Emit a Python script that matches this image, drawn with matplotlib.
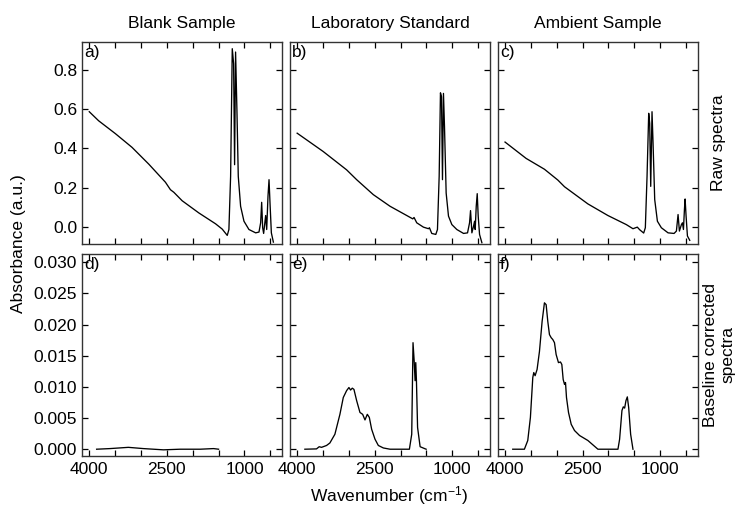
import matplotlib
matplotlib.use("Agg")
import matplotlib.pyplot as plt

plt.rcParams['font.family'] = ['Liberation Sans', 'DejaVu Sans']
plt.rcParams['mathtext.fontset'] = 'custom'
plt.rcParams['mathtext.rm'] = 'Liberation Sans'
plt.rcParams['mathtext.it'] = 'Liberation Sans:italic'
plt.rcParams['font.size'] = 12.5

# column titles / row labels
col_titles = ["Blank Sample", "Laboratory Standard", "Ambient Sample"]
row_labels = ["Raw spectra", "Baseline corrected\nspectra"]
panel_tags = [["a)", "b)", "c)"], ["d)", "e)", "f)"]]

# ---- raw spectra ----
blank_raw_wn = [3998, 3817, 3495, 3172, 2849, 2527, 2430, 2365, 2204, 1881, 1559, 1430,
                1333, 1301, 1268, 1236, 1210, 1191, 1172, 1146, 1120, 1075, 1010, 914,
                784, 720, 688, 668, 649, 630, 591, 571, 546, 526, 507, 481, 442]
blank_raw_abs = [0.586, 0.540, 0.475, 0.405, 0.320, 0.228, 0.190, 0.177, 0.134, 0.072, 0.017, -0.010,
                 -0.042, -0.012, 0.258, 0.906, 0.830, 0.317, 0.889, 0.594, 0.258, 0.106, 0.030, -0.012,
                 -0.029, -0.025, 0.022, 0.126, -0.003, -0.032, 0.059, -0.012, 0.157, 0.241, 0.123, -0.029, -0.076]

lab_raw_wn = [3998, 3495, 3043, 2849, 2527, 2204, 1881, 1765, 1740, 1688, 1559, 1462, 1443,
              1398, 1320, 1288, 1255, 1230, 1210, 1191, 1172, 1152, 1120, 1075, 1010, 914,
              784, 707, 668, 649, 623, 591, 571, 559, 539, 520, 501, 475, 430]
lab_raw_abs = [0.477, 0.384, 0.291, 0.241, 0.165, 0.106, 0.059, 0.042, 0.049, 0.022, 0.000, -0.008, -0.003,
               -0.032, -0.037, -0.012, 0.258, 0.682, 0.662, 0.241, 0.679, 0.510, 0.173, 0.056, 0.013, -0.012,
               -0.032, -0.029, 0.022, 0.084, -0.029, 0.005, 0.030, -0.012, 0.106, 0.170, 0.056, -0.037, -0.079]

amb_raw_wn = [3998, 3591, 3237, 2978, 2849, 2398, 2011, 1656, 1527, 1443, 1398, 1320,
              1288, 1255, 1223, 1204, 1184, 1159, 1139, 1107, 1055, 979, 849, 733, 688,
              656, 630, 591, 571, 552, 533, 520, 501, 475, 430]
amb_raw_abs = [0.432, 0.349, 0.294, 0.239, 0.205, 0.118, 0.059, 0.013, -0.008, 0.000, -0.013, -0.030,
               -0.003, 0.258, 0.578, 0.527, 0.207, 0.586, 0.426, 0.140, 0.030, -0.003, -0.029, -0.032, -0.020,
               0.064, -0.020, 0.013, 0.022, -0.012, 0.089, 0.143, 0.056, -0.045, -0.067]

# ---- baseline corrected spectra ----
blank_bc_wn = [3856, 3598, 3243, 2953, 2565, 2243, 1856, 1598, 1501]
blank_bc_abs = [0.0000, 0.0001, 0.0003, 0.0001, -0.0001, 0.0000, 0.0000, 0.0001, 0.0000]

lab_bc_wn = [3849, 3624, 3572, 3527, 3430, 3366, 3269, 3172, 3107, 3043, 2998, 2966, 2933,
             2901, 2849, 2785, 2733, 2688, 2643, 2604, 2559, 2494, 2430, 2333, 2204, 1830,
             1785, 1760, 1738, 1720, 1707, 1694, 1672, 1623, 1507]
lab_bc_abs = [0.0000, 0.00005, 0.0004, 0.0003, 0.0006, 0.0010, 0.0024, 0.0056, 0.0083, 0.0094, 0.0099, 0.0095, 0.0098,
              0.0096, 0.0078, 0.0059, 0.0056, 0.0047, 0.0056, 0.0051, 0.0032, 0.0016, 0.0006, 0.0002, 0.0000, 0.0000,
              0.0024, 0.0171, 0.0142, 0.0110, 0.0139, 0.0110, 0.0035, 0.0004, 0.0000]

amb_bc_wn = [3849, 3624, 3559, 3508, 3462, 3443, 3417, 3379, 3333, 3282, 3237, 3204, 3172,
             3140, 3107, 3075, 3043, 3011, 2966, 2927, 2901, 2875, 2849, 2830, 2811, 2772,
             2720, 2656, 2559, 2398, 2204, 1817, 1785, 1740, 1714, 1688, 1662, 1636, 1610,
             1572, 1527]
amb_bc_abs = [0.0000, 0.0000, 0.0014, 0.0051, 0.0115, 0.0123, 0.0118, 0.0128, 0.0157, 0.0205, 0.0235, 0.0232, 0.0205,
              0.0184, 0.0179, 0.0176, 0.0171, 0.0152, 0.0139, 0.0140, 0.0136, 0.0112, 0.0104, 0.0107, 0.0083, 0.0059,
              0.0040, 0.0030, 0.0022, 0.0014, 0.0000, 0.0000, 0.0016, 0.0062, 0.0068, 0.0066, 0.0078, 0.0084, 0.0067,
              0.0024, 0.0000]

raw = [(blank_raw_wn, blank_raw_abs), (lab_raw_wn, lab_raw_abs), (amb_raw_wn, amb_raw_abs)]
bc = [(blank_bc_wn, blank_bc_abs), (lab_bc_wn, lab_bc_abs), (amb_bc_wn, amb_bc_abs)]

x_ticks = [4000, 3500, 3000, 2500, 2000, 1500, 1000, 500]
x_ticklabels = ["4000", "", "", "2500", "", "", "1000", ""]
raw_yticks = [0.0, 0.2, 0.4, 0.6, 0.8]
bc_yticks = [0.000, 0.005, 0.010, 0.015, 0.020, 0.025, 0.030]

fig, axes = plt.subplots(2, 3, figsize=(7.38, 5.09), dpi=100)
fig.subplots_adjust(left=0.111, right=0.946, top=0.9175, bottom=0.104,
                    wspace=0.037, hspace=0.045)

for r in range(2):
    for c in range(3):
        ax = axes[r, c]
        wn, ab = (raw if r == 0 else bc)[c]
        ax.plot(wn, ab, color='black', lw=0.95)
        ax.set_xlim(4140, 268)
        ax.set_xticks(x_ticks)
        if r == 0:
            ax.set_ylim(-0.088, 0.94)
            ax.set_yticks(raw_yticks)
            ax.set_yticklabels(["%.1f" % v for v in raw_yticks])
            ax.set_xticklabels([])
            ax.set_title(col_titles[c], fontsize=12.5, pad=10)
        else:
            ax.set_ylim(-0.0011, 0.0314)
            ax.set_yticks(bc_yticks)
            ax.set_yticklabels(["%.3f" % v for v in bc_yticks])
            ax.set_xticklabels(x_ticklabels)
        if c > 0:
            ax.set_yticklabels([])
        ax.tick_params(direction='in', top=True, right=True, length=4,
                       width=0.9, colors='black', labelsize=12.5)
        ax.tick_params(axis='x', pad=4.5)
        ax.tick_params(axis='y', pad=3.5)
        for s in ax.spines.values():
            s.set_linewidth(1.0)
            s.set_color('#333333')
        ax.text(0.012, 0.985, panel_tags[r][c], transform=ax.transAxes,
                ha='left', va='top', fontsize=12.5)

fig.text(0.025, 0.522, "Absorbance (a.u.)", rotation=90, ha='center', va='center', fontsize=12.5)
fig.text(0.527, 0.027, "Wavenumber (cm$^{-1}$)", ha='center', va='center', fontsize=12.5)
fig.text(0.973, 0.719, row_labels[0], rotation=90, ha='center', va='center', fontsize=12.5)
fig.text(0.975, 0.303, row_labels[1], rotation=90, ha='center', va='center',
         multialignment='center', fontsize=12.5)

fig.savefig("out.png", dpi=100)
